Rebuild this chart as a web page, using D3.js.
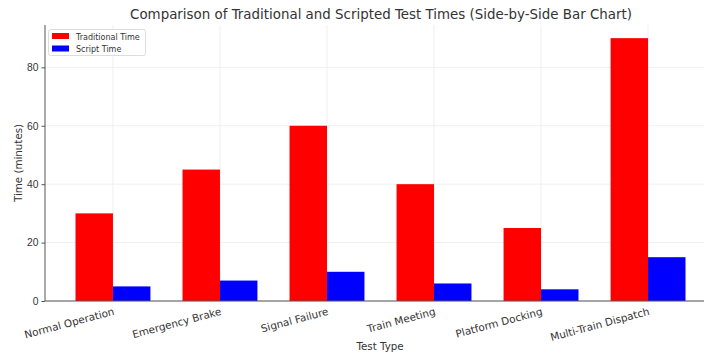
<!DOCTYPE html>
<html><head><meta charset="utf-8">
<script src="https://cdn.jsdelivr.net/npm/d3@7"></script>
<style>body{margin:0;background:#fff;} svg{display:block;font-family:"DejaVu Sans",sans-serif;}</style>
</head><body>
<script>
const categories = ["Normal Operation","Emergency Brake","Signal Failure","Train Meeting","Platform Docking","Multi-Train Dispatch"];
const traditionalTime = [30,45,60,40,25,90];
const scriptTime = [5,7,10,6,4,15];
const yTicks = [0,20,40,60,80];
const seriesNames = ["Traditional Time","Script Time"];
const seriesColors = ["#ff0000","#0000ff"];

(function(){
const W=704,H=353;
const svg=d3.select("body").append("svg").attr("width",W).attr("height",H);
const pL=45,pR=716,pT=25,pB=301;
const barW=0.35;
const x=d3.scaleLinear().domain([-0.635,5.635]).range([pL,pR]);
const y=d3.scaleLinear().domain([0,94.5]).range([pB,pT]);

// grid
svg.append("g").selectAll("line").data(categories).join("line")
 .attr("x1",(d,i)=>x(i)).attr("x2",(d,i)=>x(i)).attr("y1",pT).attr("y2",pB)
 .attr("stroke","#ebebeb").attr("stroke-width",0.8);
svg.append("g").selectAll("line").data(yTicks).join("line")
 .attr("x1",pL).attr("x2",pR).attr("y1",d=>y(d)).attr("y2",d=>y(d))
 .attr("stroke","#ebebeb").attr("stroke-width",0.8);

// bars
const series=[traditionalTime,scriptTime];
series.forEach((vals,s)=>{
  svg.append("g").selectAll("rect").data(vals).join("rect")
   .attr("x",(d,i)=>x(i+(s===0?-barW:0)))
   .attr("width",x(barW)-x(0))
   .attr("y",d=>y(d)).attr("height",d=>y(0)-y(d))
   .attr("fill",seriesColors[s]);
});

// axes
const yAxis=d3.axisLeft(y).tickValues(yTicks).tickSize(3.5).tickPadding(3);
const gy=svg.append("g").attr("transform",`translate(${pL},0)`).call(yAxis);
gy.select(".domain").remove();
gy.selectAll("line").attr("stroke","#555");
gy.selectAll("text").attr("font-size",10.3).attr("fill","#333");
svg.append("line").attr("x1",pL).attr("x2",pL).attr("y1",pT).attr("y2",pB).attr("stroke","#555").attr("stroke-width",1);
svg.append("line").attr("x1",pL).attr("x2",pR).attr("y1",pB).attr("y2",pB).attr("stroke","#555").attr("stroke-width",1);

// x labels
svg.append("g").selectAll("text").data(categories).join("text")
 .attr("transform",(d,i)=>`translate(${x(i)},${pB+6}) rotate(-15)`)
 .attr("text-anchor","end").attr("dy","0.75em")
 .attr("font-size",10.4).attr("fill","#333").text(d=>d);

// titles
svg.append("text").attr("x",381).attr("y",19).attr("text-anchor","middle")
 .attr("font-size",13.4).attr("fill","#333").text("Comparison of Traditional and Scripted Test Times (Side-by-Side Bar Chart)");
svg.append("text").attr("x",380).attr("y",350).attr("text-anchor","middle")
 .attr("font-size",10.3).attr("fill","#333").text("Test Type");
svg.append("text").attr("transform",`translate(22,${(pT+pB)/2}) rotate(-90)`).attr("text-anchor","middle")
 .attr("font-size",10.3).attr("fill","#333").text("Time (minutes)");

// legend
const lg=svg.append("g");
lg.append("rect").attr("x",48.5).attr("y",29.5).attr("width",97).attr("height",26).attr("fill","#fff").attr("stroke","#ddd").attr("rx",2);
seriesNames.forEach((n,i)=>{
  lg.append("rect").attr("x",52).attr("y",33+i*12.5).attr("width",17).attr("height",6).attr("fill",seriesColors[i]);
  lg.append("text").attr("x",76).attr("y",39.5+i*12.5).attr("font-size",8).attr("fill","#333").text(n);
});
})();
</script>
</body></html>
